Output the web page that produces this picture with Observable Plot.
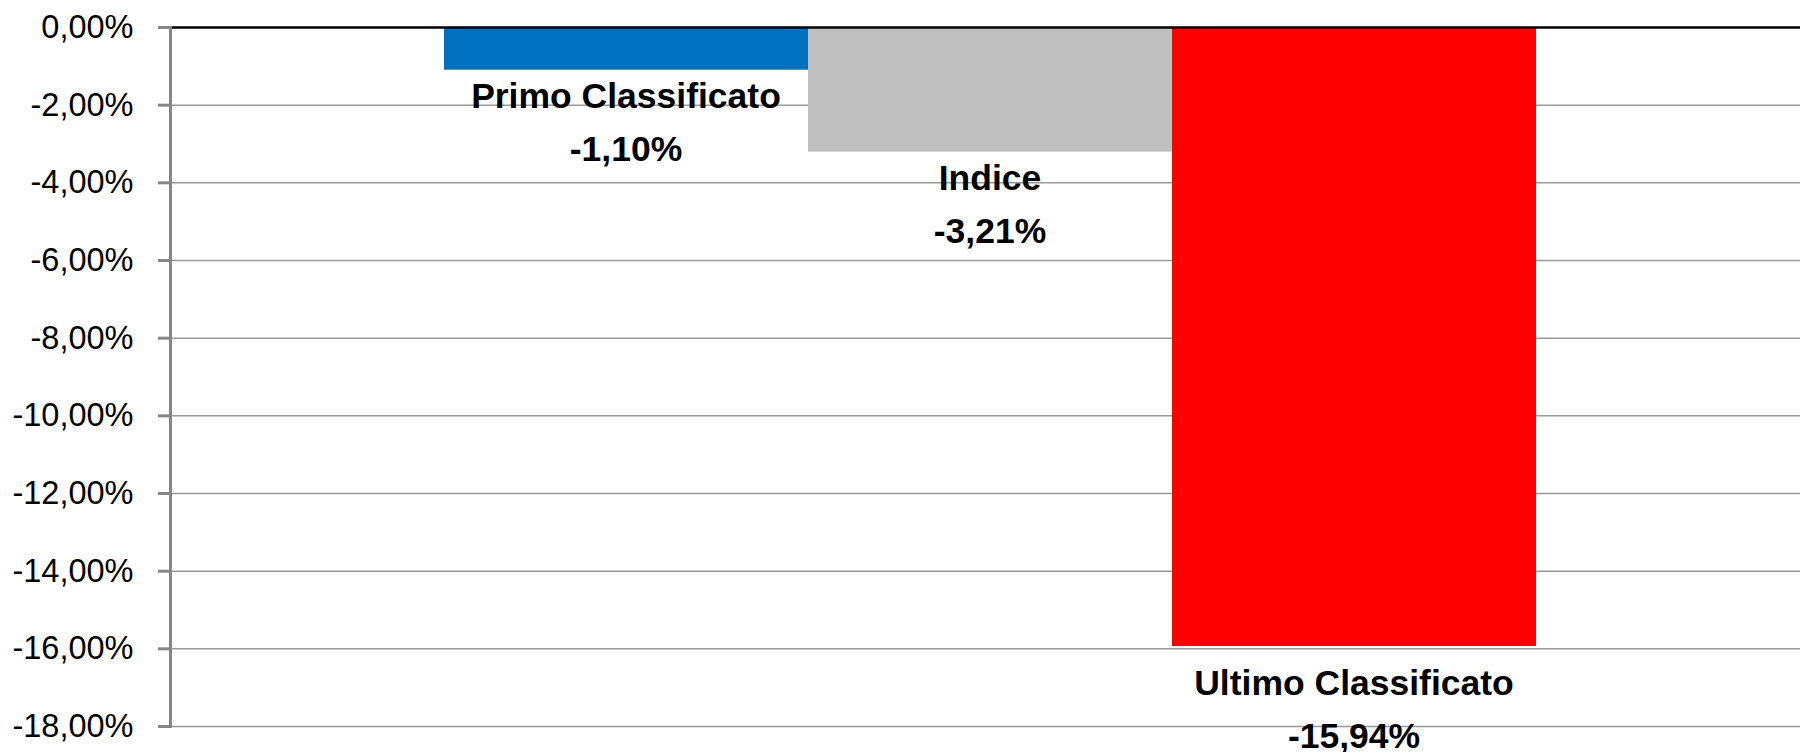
<!DOCTYPE html>
<html>
<head>
<meta charset="utf-8">
<script src="https://cdn.jsdelivr.net/npm/d3@7"></script>
<script src="https://cdn.jsdelivr.net/npm/@observablehq/plot@0.6"></script>
<style>
  html, body { margin: 0; padding: 0; background: #fff; }
  #chart svg { display: block; overflow: visible; }
</style>
</head>
<body>
<div id="chart"></div>
<script>
const categories = ["Primo Classificato", "Indice", "Ultimo Classificato"];
const values = [-1.10, -3.21, -15.94];
const colors = ["#0070C0", "#BFBFBF", "#FF0000"];
const yTicks = [0, -2, -4, -6, -8, -10, -12, -14, -16, -18];

const fmt = v => v.toFixed(2).replace(".", ",") + "%";
const data = categories.map((c, i) => ({name: c, value: values[i], color: colors[i]}));

const chart = Plot.plot({
  width: 1800,
  height: 752,
  marginLeft: 170,
  marginRight: 0,
  marginTop: 27,
  marginBottom: 26,
  style: {fontFamily: "'Liberation Sans', Arial, sans-serif", background: "#fff", overflow: "visible"},
  x: {domain: categories, paddingInner: 0, paddingOuter: 0.733, align: 0.51, axis: null},
  y: {domain: [-18, 0], axis: null},
  marks: [
    Plot.gridY(yTicks.filter(t => t !== 0), {stroke: "#999999", strokeWidth: 1.5, strokeOpacity: 1}),
    Plot.barY(data, {x: "name", y: "value", fill: "color", inset: 0}),
    Plot.ruleY([0], {stroke: "#000", strokeWidth: 2.5}),
    Plot.frame({anchor: "left", stroke: "#868686", strokeWidth: 3}),
    Plot.axisY(yTicks, {
      tickSize: 12, tickPadding: 25, stroke: "#868686", strokeWidth: 3,
      fontSize: 32.5, fill: "#000", tickFormat: fmt, label: null
    }),
    Plot.text(data, {
      x: "name", y: "value",
      text: d => d.name + "\n" + fmt(d.value),
      lineAnchor: "top",
      lineHeight: 1.486,
      fontSize: 35.5, fontWeight: "bold", fill: "#000",
      textAnchor: "middle"
    })
  ]
});

// center each label on its bar, Ultimo label sits a bit lower
const rects = d3.select(chart).selectAll("g[aria-label='bar'] rect").nodes();
const xs = chart.scale("x");
d3.select(chart).selectAll("g[aria-label='text'] text").each(function(d, i) {
  const extra = i === 2 ? 12 : 1;
  const r = rects[i];
  const cx = +r.getAttribute("x") + (+r.getAttribute("width")) / 2;
  const t = d3.select(this);
  const tr = t.attr("transform") || "";
  const m = /translate\(\s*([-\d.e]+)[ ,]+([-\d.e]+)\s*\)/.exec(tr);
  const y = m ? +m[2] : +t.attr("y") || 0;
  t.attr("x", null).attr("y", null);
  t.attr("transform", `translate(${cx},${y + extra})`);
});
// neutralize any group-level offset on the text layer
d3.select(chart).selectAll("g[aria-label='text']").attr("transform", null);

document.getElementById("chart").appendChild(chart);
</script>
</body>
</html>
